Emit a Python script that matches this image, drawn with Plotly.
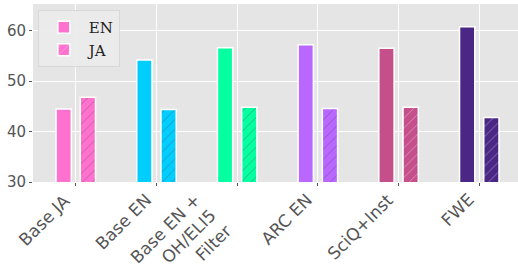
import plotly.graph_objects as go

categories = ["Base JA", "Base EN", "Base EN +<br>OH/ELI5<br>Filter", "ARC EN", "SciQ+Inst", "FWE"]
en_values = [44.5, 54.2, 56.6, 57.2, 56.5, 60.8]
ja_values = [46.8, 44.4, 44.8, 44.6, 44.8, 42.8]
colors = ["#ff71ce", "#01cdfe", "#05ffa1", "#b967ff", "#c44f8b", "#4b2785"]
y_ticks = [30, 40, 50, 60]

fig = go.Figure()
fig.add_trace(go.Bar(
    x=categories, y=en_values, name="EN",
    marker=dict(color=colors, line=dict(color="white", width=1.5)),
))
fig.add_trace(go.Bar(
    x=categories, y=ja_values, name="JA",
    marker=dict(color=colors, line=dict(color="white", width=1.5),
                pattern=dict(shape="/", fgcolor="white", bgcolor=colors, size=7, solidity=0.1)),
))

# rotated category labels (right/top anchored like matplotlib)
for cat in categories:
    fig.add_annotation(
        x=cat, y=0, xref="x", yref="paper", text=cat, showarrow=False,
        textangle=-45, xanchor="right", yanchor="top", align="right",
        xshift=1, yshift=-5,
        font=dict(family="DejaVu Sans", size=17, color="#555"),
    )

fig.update_layout(
    width=518, height=271,
    margin=dict(l=33, r=0, t=4, b=89, autoexpand=False),
    paper_bgcolor="white", plot_bgcolor="#e5e5e5",
    barmode="group", bargap=0.4, bargroupgap=0.37,
    showlegend=True,
    legend=dict(x=0.01, y=0.966, xanchor="left", yanchor="top",
                bgcolor="rgba(235,235,235,0.9)", bordercolor="#d8d8d8", borderwidth=1,
                font=dict(family="DejaVu Serif", size=15, color="#222"),
                itemwidth=40, tracegroupgap=0),
    font=dict(family="DejaVu Sans", size=15, color="#555"),
)
fig.update_xaxes(
    range=[-0.53, 5.48], showticklabels=False, showgrid=True, gridcolor="white", gridwidth=1,
    ticks="outside", ticklen=3, tickcolor="#555",
    zeroline=False, showline=False, automargin=False,
)
fig.update_yaxes(
    range=[30, 65.3], tickvals=y_ticks, showgrid=True, gridcolor="white", gridwidth=1,
    ticks="outside", ticklen=3, tickcolor="#555", tickfont=dict(size=15, color="#555"),
    zeroline=False, showline=False, automargin=False,
)
fig.write_html("out.html", config={"displayModeBar": False},
               post_script="document.body.style.margin='0';")
